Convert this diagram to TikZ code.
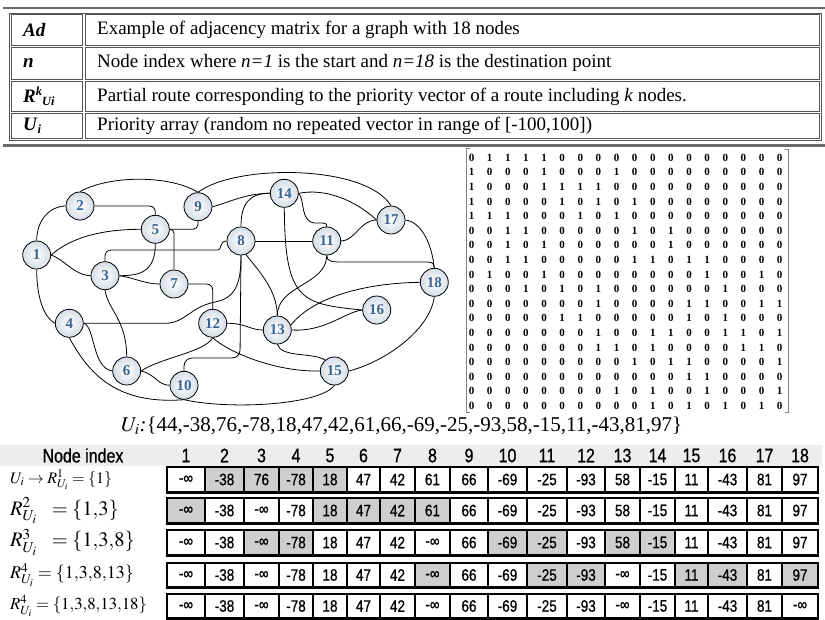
\documentclass[tikz,border=0pt]{standalone}
\usepackage{mathptmx}
\usepackage[no-math]{fontspec}
\setmainfont{Liberation Serif}
\newfontfamily\narrowsans[FakeStretch=0.82,FakeBold=0.8]{Liberation Sans}
\definecolor{nodeblue}{RGB}{58,100,148}
\definecolor{nodeshade}{RGB}{214,221,231}
\definecolor{hdrgray}{RGB}{237,237,237}
\definecolor{cellgray}{RGB}{206,206,206}
\definecolor{rulegray}{RGB}{105,105,105}
\definecolor{boxgray}{RGB}{85,85,85}
\def\cellbnd{{167,205,244,279,313,347,380,415,450,488,527,567,605,640,675,708,747,782,818}}
\newcommand\tablerow[4]{%
  \draw[line width=1.2pt] (166.2,{#1-0.8}) rectangle (818.8,{#2+0.9});
  \foreach \v/\s [count=\c] in {#3} {
    \pgfmathtruncatemacro\ci{\c-1}
    \pgfmathsetmacro\xa{\cellbnd[\ci]}
    \pgfmathsetmacro\xb{\cellbnd[\c]}
    \pgfmathsetmacro\xl{\xa+0.9}
    \pgfmathsetmacro\xr{\xb-0.9}
    \ifnum\s=1\relax\def\fc{cellgray}\else\def\fc{white}\fi
    \draw[cellbox,fill=\fc] (\xl,#1) rectangle (\xr,#2);
    \node[cellval] (#4-\c) at ({(\xl+\xr)/2},{(#1+#2)/2}) {\v};
  }
}
\begin{document}
\begin{tikzpicture}[x=1pt,y=-1pt,
  gnode/.style={circle,draw=black,line width=0.8pt,minimum size=28pt,inner sep=0pt,
    inner color=white,outer color=nodeshade,font=\fontsize{15}{15}\selectfont\bfseries,text=nodeblue},
  gedge/.style={line width=0.8pt,black},
  ttxt/.style={inner sep=0pt,anchor=west,font=\fontsize{19}{22}\selectfont},
  tbox/.style={draw=boxgray,line width=0.9pt},
  matval/.style={inner sep=0pt,font=\fontsize{11}{11}\selectfont\bfseries},
  cellbox/.style={draw=black,line width=1.1pt},
  cellval/.style={inner sep=0pt,font=\narrowsans\fontsize{16.5}{16.5}\selectfont},
  hdrtxt/.style={inner sep=0pt,font=\narrowsans\fontsize{19.5}{20}\selectfont},
  labtxt/.style={inner sep=0pt,anchor=west}]
\useasboundingbox (0,0) rectangle (825,619);

% ---------- top legend table ----------
\draw[rulegray,line width=2.6pt] (3,8) -- (825,8);
\draw[rulegray,line width=2.6pt] (3,145.5) -- (825,145.5);
\draw[boxgray,line width=1pt] (9.5,13) rectangle (821,140);
\foreach \ya/\yb in {14.8/45.8, 47.6/79.2, 81/111.8, 113.6/138.3} {
  \draw[tbox] (11.6,\ya) rectangle (82.6,\yb);
  \draw[tbox] (85.4,\ya) rectangle (819,\yb);
}
\node[ttxt] (k1) at (23,30.3) {\textbf{\textit{Ad}}};
\node[ttxt] (k2) at (23,63.4) {\textbf{\textit{n}}};
\node[ttxt] (k3) at (23,96.4) {\textbf{\textit{R}}\raisebox{6.5pt}{\fontsize{12.5}{12}\selectfont\bfseries\itshape k}\raisebox{-3.5pt}{\fontsize{12.5}{12}\selectfont\bfseries\itshape Ui}};
\node[ttxt] (k4) at (23,126) {\textbf{\textit{U}}\raisebox{-3.5pt}{\fontsize{12.5}{12}\selectfont\bfseries\itshape i}};
\node[ttxt] (d1) at (97,30.3) {Example of adjacency matrix for a graph with 18 nodes};
\node[ttxt] (d2) at (97,63.4) {Node index where \textit{n=1} is the start and \textit{n=18} is the destination point};
\node[ttxt] (d3) at (97,96.4) {Partial route corresponding to the priority vector of a route including \textit{k} nodes.};
\node[ttxt] (d4) at (97,126) {Priority array (random no repeated vector in range of [-100,100])};

% ---------- graph nodes ----------
\node[gnode] (n1) at (36.7,255) {1};
\node[gnode] (n2) at (80,206) {2};
\node[gnode] (n3) at (105,275.7) {3};
\node[gnode] (n4) at (69.3,323.3) {4};
\node[gnode] (n5) at (155.3,229.3) {5};
\node[gnode] (n6) at (126.7,371) {6};
\node[gnode] (n7) at (174,284) {7};
\node[gnode] (n8) at (241,241) {8};
\node[gnode] (n9) at (198,206.7) {9};
\node[gnode] (n10) at (184,385.3) {10};
\node[gnode] (n11) at (326.7,241) {11};
\node[gnode] (n12) at (212.7,323.3) {12};
\node[gnode] (n13) at (277.3,330) {13};
\node[gnode] (n14) at (284.3,193.3) {14};
\node[gnode] (n15) at (334.3,371) {15};
\node[gnode] (n16) at (376.7,310) {16};
\node[gnode] (n17) at (391,220) {17};
\node[gnode] (n18) at (434.3,282.3) {18};

% ---------- graph edges ----------
\draw[gedge] (n1.north) .. controls (36.7,220) and (50,206) .. (n2.west);
\draw[gedge] (n1.east) .. controls (65,243) and (90,229.3) .. (n5.west);
\draw[gedge] (n1.east) .. controls (62,258) and (75,275.7) .. (n3.west);
\draw[gedge] (n1.south) .. controls (36.7,300) and (45,318) .. (n4.west);
\draw[gedge] (n2.north) .. controls (110,175) and (170,175) .. (n9.north);
\draw[gedge,rounded corners=6pt] (n2.east) -| (n5.north);
\draw[gedge,rounded corners=5pt] (n5.east) -| (n9.south);
\draw[gedge,rounded corners=4pt] (n5.east) -| (n7.north);
\draw[gedge] (n5.south) .. controls (155.3,272) and (140,275.7) .. (n3.east);
\draw[gedge,rounded corners=6pt] (n3.north) |- (212,250) [sharp corners] .. controls (222,250) and (219,241) .. (n8.west);
\draw[gedge] (n3.east) .. controls (135,278) and (145,284) .. (n7.west);
\draw[gedge] (n3.south) .. controls (108,310) and (126.7,320) .. (n6.north);
\draw[gedge] (n4.east) -- (165,323.3) .. controls (185,323.3) and (190,307) .. (215,302) .. controls (235,298) and (241,285) .. (n8.south);
\draw[gedge] (n4.east) .. controls (95,326) and (92,368) .. (n6.west);
\draw[gedge] (n4.south) .. controls (88,372) and (115,405) .. (n10.south);
\draw[gedge] (n10.south) .. controls (230,410) and (320,405) .. (n15.south);
\draw[gedge,rounded corners=6pt] (n7.east) -| (n12.north);
\draw[gedge] (n6.east) .. controls (155,374) and (158,385.3) .. (n10.west);
\draw[gedge] (n6.east) .. controls (160,358) and (205,352) .. (n12.south);
\draw[gedge,rounded corners=8pt] (n10.north) |- (240,358) -- (n8.south);
\draw[gedge] (n8) -- (n11);
\draw[gedge] (n8.north) .. controls (241,205) and (248,193.3) .. (n14.west);
\draw[gedge] (n8.-70) .. controls (258,270) and (277.3,290) .. (n13.north);
\draw[gedge] (n9.east) .. controls (228,203) and (245,193.3) .. (n14.west);
\draw[gedge] (n9.north) .. controls (235,164) and (365,164) .. (n17.north);
\draw[gedge] (n14.east) .. controls (305,200) and (300,222) .. (315,223) .. controls (326.7,223) .. (n11.north);
\draw[gedge] (n14.east) .. controls (325,188) and (355,200) .. (n17.west);
\draw[gedge] (n14.south) .. controls (285,300) and (300,304) .. (n16.west);
\draw[gedge] (n11.east) .. controls (355,241) and (360,220) .. (n17.west);
\draw[gedge] (n11.south) .. controls (326.7,262) and (332,262) .. (345,262) -- (422,262) .. controls (433,262) .. (n18.north);
\draw[gedge] (n11.south) .. controls (326.7,285) and (277.3,285) .. (n13.north);
\draw[gedge] (n17.east) .. controls (422,222) and (432,245) .. (n18.north);
\draw[gedge] (n18.west) .. controls (370,283) and (315,295) .. (n13.20);
\draw[gedge] (n13.east) .. controls (325,332) and (345,312) .. (n16.west);
\draw[gedge] (n12.east) .. controls (245,323) and (250,330) .. (n13.west);
\draw[gedge] (n12.south) .. controls (228,352) and (275,372) .. (n15.west);
\draw[gedge] (n13.south) .. controls (282,358) and (312,352) .. (n15.130);
\draw[gedge] (n15.east) .. controls (385,362) and (430,330) .. (n18.south);

% ---------- adjacency matrix ----------
\draw[gray,line width=0.8pt] (469.5,148.5) -- (466,148.5) -- (466,412.5) -- (469.5,412.5);
\draw[gray,line width=0.8pt] (784.5,149.5) -- (788,149.5) -- (788,412.5) -- (784.5,412.5);
\foreach \rowlist [count=\r] in {
 {0,1,1,1,1,0,0,0,0,0,0,0,0,0,0,0,0,0},
 {1,0,0,0,1,0,0,0,1,0,0,0,0,0,0,0,0,0},
 {1,0,0,0,1,1,1,1,0,0,0,0,0,0,0,0,0,0},
 {1,0,0,0,0,1,0,1,0,1,0,0,0,0,0,0,0,0},
 {1,1,1,0,0,0,1,0,1,0,0,0,0,0,0,0,0,0},
 {0,0,1,1,0,0,0,0,0,1,0,1,0,0,0,0,0,0},
 {0,0,1,0,1,0,0,0,0,0,0,1,0,0,0,0,0,0},
 {0,0,1,1,0,0,0,0,0,1,1,0,1,1,0,0,0,0},
 {0,1,0,0,1,0,0,0,0,0,0,0,0,1,0,0,1,0},
 {0,0,0,1,0,1,0,1,0,0,0,0,0,0,1,0,0,0},
 {0,0,0,0,0,0,0,1,0,0,0,0,1,1,0,0,1,1},
 {0,0,0,0,0,1,1,0,0,0,0,0,1,0,1,0,0,0},
 {0,0,0,0,0,0,0,1,0,0,1,1,0,0,1,1,0,1},
 {0,0,0,0,0,0,0,1,1,0,1,0,0,0,0,1,1,0},
 {0,0,0,0,0,0,0,0,0,1,0,1,1,0,0,0,0,1},
 {0,0,0,0,0,0,0,0,0,0,0,0,1,1,0,0,0,0},
 {0,0,0,0,0,0,0,0,1,0,1,0,0,1,0,0,0,1},
 {0,0,0,0,0,0,0,0,0,0,1,0,1,0,1,0,1,0}} {
  \foreach \v [count=\c] in \rowlist {
    \node[matval] (m-\r-\c) at ({471.5+(\c-1)*18.13},{157.7+(\r-1)*14.6}) {\v};
  }
}

% ---------- priority vector ----------
\node[labtxt,font=\fontsize{21}{24}\selectfont] (uvec) at (121,426) {$U_i$\textit{:}\{44,-38,76,-78,18,47,42,61,66,-69,-25,-93,58,-15,11,-43,81,97\}};

% ---------- bottom table ----------
\fill[hdrgray] (0,445) rectangle (822,465.5);
\node[hdrtxt] (hdr) at (83,455.5) {Node index};
\foreach \c in {1,...,18} {
  \pgfmathtruncatemacro\ci{\c-1}
  \pgfmathsetmacro\xa{\cellbnd[\ci]}
  \pgfmathsetmacro\xb{\cellbnd[\c]}
  \pgfmathsetmacro\xc{(\xa+\xb)/2}
  \node[hdrtxt] (h-\c) at (\xc,455.5) {\c};
}
\tablerow{467}{492}{-∞/0,-38/1,76/1,-78/1,18/1,47/0,42/0,61/0,66/0,-69/0,-25/0,-93/0,58/0,-15/0,11/0,-43/0,81/0,97/0}{ra}
\tablerow{498}{523}{-∞/1,-38/0,-∞/0,-78/0,18/1,47/1,42/1,61/1,66/0,-69/0,-25/0,-93/0,58/0,-15/0,11/0,-43/0,81/0,97/0}{rb}
\tablerow{530}{555}{-∞/0,-38/0,-∞/1,-78/1,18/0,47/0,42/0,-∞/0,66/0,-69/1,-25/1,-93/0,58/1,-15/1,11/0,-43/0,81/0,97/0}{rc}
\tablerow{563}{587}{-∞/0,-38/0,-∞/0,-78/0,18/0,47/0,42/0,-∞/1,66/0,-69/0,-25/1,-93/1,-∞/0,-15/0,11/1,-43/1,81/0,97/1}{rd}
\tablerow{594}{618}{-∞/0,-38/0,-∞/0,-78/0,18/0,47/0,42/0,-∞/0,66/0,-69/0,-25/0,-93/0,-∞/0,-15/0,11/0,-43/0,81/0,-∞/0}{re}

\node[labtxt,font=\fontsize{16}{16}\selectfont] (lab1) at (10,479.5) {$U_i\rightarrow R^1_{U_i}=\{1\}$};
\node[labtxt,font=\fontsize{20.5}{21}\selectfont] (lab2) at (10,510.5) {$R^2_{U_i}\ \ =\{1{,}3\}$};
\node[labtxt,font=\fontsize{20.5}{21}\selectfont] (lab3) at (10,542.5) {$R^3_{U_i}\ \ =\{1{,}3{,}8\}$};
\node[labtxt,font=\fontsize{18}{18}\selectfont] (lab4) at (10,575) {$R^4_{U_i}=\{1{,}3{,}8{,}13\}$};
\node[labtxt,font=\fontsize{16.8}{17}\selectfont] (lab5) at (10,606) {$R^4_{U_i}=\{1{,}3{,}8{,}13{,}18\}$};
\end{tikzpicture}
\end{document}
